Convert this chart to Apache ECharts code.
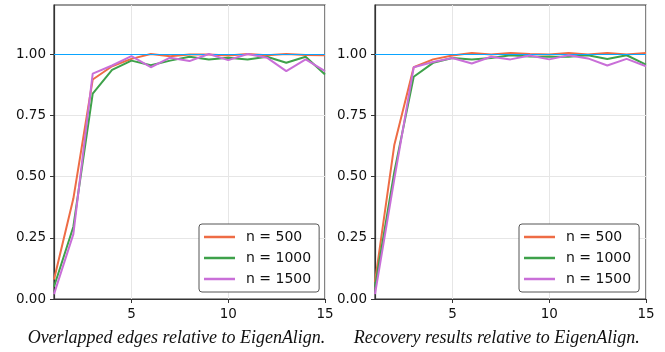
<!DOCTYPE html>
<html>
<head>
<meta charset="utf-8">
<script src="https://cdn.jsdelivr.net/npm/echarts@6/dist/echarts.min.js"></script>
<style>
  html, body { margin: 0; padding: 0; background: #fff; }
  #chart { width: 665px; height: 352px; }
</style>
</head>
<body>
<div id="chart"></div>
<script>
// x = 1..15
const steps = [1, 2, 3, 4, 5, 6, 7, 8, 9, 10, 11, 12, 13, 14, 15];
const seriesNames = ['n = 500', 'n = 1000', 'n = 1500'];
const colors = ['#ee6c45', '#3ea14a', '#c96fd8'];

// left panel: overlapped edges
const edges500 = [0.08, 0.41, 0.896, 0.95, 0.98, 1.0, 0.991, 0.998, 0.998, 0.994, 1.0, 0.995, 1.0, 0.996, 0.995];
const edges1000 = [0.05, 0.295, 0.838, 0.935, 0.973, 0.954, 0.973, 0.989, 0.978, 0.985, 0.978, 0.989, 0.964, 0.989, 0.916];
const edges1500 = [0.02, 0.265, 0.92, 0.953, 0.991, 0.946, 0.985, 0.971, 1.0, 0.975, 1.0, 0.985, 0.93, 0.978, 0.93];

// right panel: recovery
const recov500 = [0.07, 0.63, 0.946, 0.978, 0.994, 1.004, 0.998, 1.004, 1.0, 0.998, 1.004, 0.998, 1.004, 0.998, 1.004];
const recov1000 = [0.05, 0.52, 0.907, 0.964, 0.984, 0.978, 0.984, 0.995, 0.99, 0.989, 0.989, 0.995, 0.98, 0.995, 0.957];
const recov1500 = [0.02, 0.49, 0.946, 0.967, 0.984, 0.961, 0.989, 0.978, 0.994, 0.978, 0.995, 0.982, 0.953, 0.98, 0.95];

const xTicks = [5, 10, 15];
const yTicks = [0, 0.25, 0.5, 0.75, 1.0];
const captions = ['Overlapped edges relative to EigenAlign.', 'Recovery results relative to EigenAlign.'];

const myChart = echarts.init(document.getElementById('chart'));

const panels = [
    { left: 54, data: [edges500, edges1000, edges1500] },
    { left: 375, data: [recov500, recov1000, recov1500] }
];

function makeX(i) {
    return {
        type: 'value', gridIndex: i, min: 1, max: 15,
        axisLine: { show: true, lineStyle: { color: '#333', width: 1.2 } },
        axisTick: { show: true, length: 4, lineStyle: { color: '#333' }, customValues: xTicks },
        axisLabel: { color: '#111', fontSize: 13.5, fontFamily: 'DejaVu Sans', margin: 8, customValues: xTicks },
        splitLine: { show: true, lineStyle: { color: '#e6e6e6', width: 1 } }
    };
}
function makeY(i) {
    return {
        type: 'value', gridIndex: i, min: 0, max: 1.2,
        axisLine: { show: true, lineStyle: { color: '#333', width: 1.2 } },
        axisTick: { show: true, length: 4, lineStyle: { color: '#333' }, customValues: yTicks },
        axisLabel: {
            color: '#111', fontSize: 13.5, fontFamily: 'DejaVu Sans', margin: 8, customValues: yTicks,
            formatter: (v) => v.toFixed(2)
        },
        splitLine: { show: true, lineStyle: { color: '#e6e6e6', width: 1 } }
    };
}

const series = [];
panels.forEach((p, gi) => {
    p.data.forEach((vals, si) => {
        const s = {
            name: seriesNames[si],
            type: 'line',
            xAxisIndex: gi,
            yAxisIndex: gi,
            symbol: 'none',
            lineStyle: { color: colors[si], width: 2 },
            itemStyle: { color: colors[si] },
            data: steps.map((x, k) => [x, vals[k]]),
            z: 3 + si
        };
        if (si === 0) {
            s.markLine = {
                silent: true, symbol: 'none', label: { show: false },
                lineStyle: { color: '#0aa4ff', width: 1.2, type: 'solid' },
                data: [{ yAxis: 1.0 }]
            };
        }
        series.push(s);
    });
});

const legendBase = {
    orient: 'vertical',
    top: 224,
    width: 119,
    padding: [6, 8, 6, 5],
    itemGap: 7,
    itemWidth: 31,
    itemHeight: 2.5,
    icon: 'rect',
    backgroundColor: '#fff',
    borderColor: '#555',
    borderWidth: 1,
    borderRadius: 3,
    textStyle: { fontSize: 14, fontFamily: 'DejaVu Sans', color: '#111', padding: [0, 0, 0, 6] },
    data: seriesNames
};

const option = {
    animation: false,
    grid: panels.map((p) => ({
        left: p.left, width: 271, top: 5, height: 294,
        show: true, borderColor: '#333', borderWidth: 1.2, backgroundColor: 'transparent'
    })),
    xAxis: [makeX(0), makeX(1)],
    yAxis: [makeY(0), makeY(1)],
    legend: [
        Object.assign({}, legendBase, { left: 199 }),
        Object.assign({}, legendBase, { left: 519 })
    ],
    graphic: captions.map((t, i) => ({
        type: 'text',
        x: i === 0 ? 176.5 : 496.7,
        y: 338,
        style: {
            text: t,
            fill: '#111',
            font: 'italic 18px "Liberation Serif"',
            textAlign: 'center',
            textVerticalAlign: 'middle'
        }
    })),
    series: series
};

myChart.setOption(option);
</script>
</body>
</html>
